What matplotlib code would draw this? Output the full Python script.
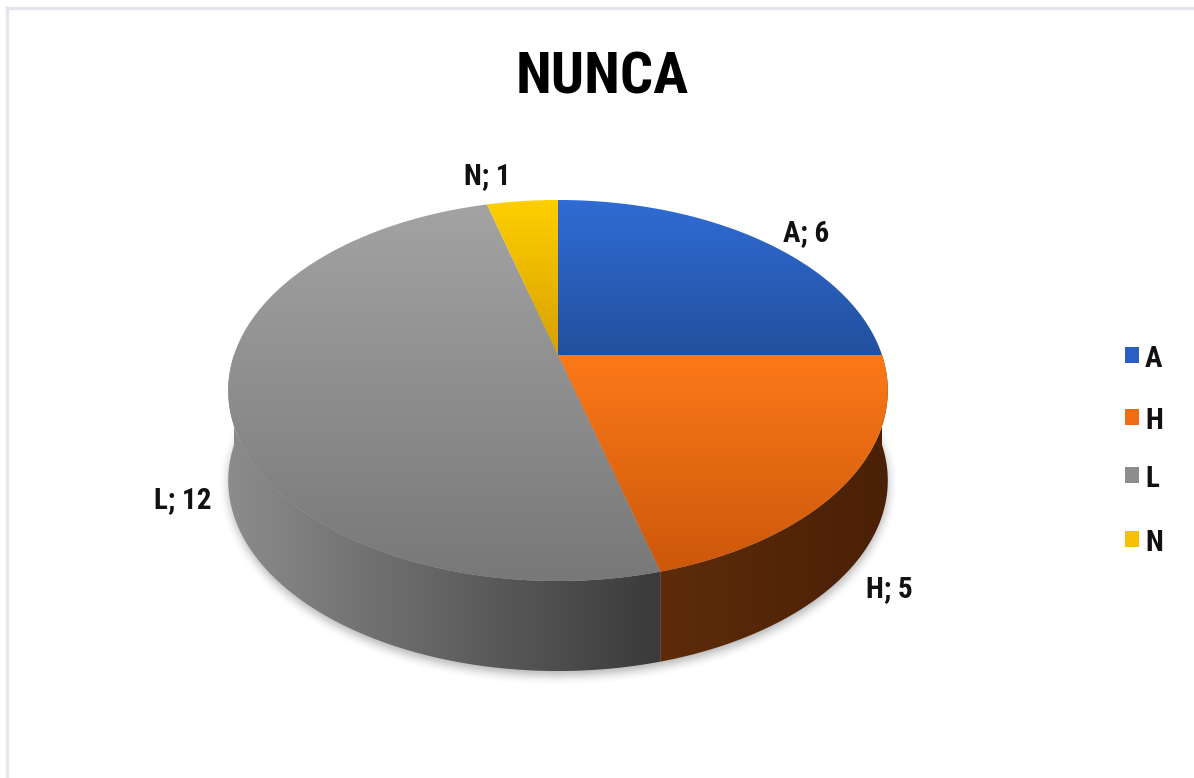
import numpy as np
import matplotlib
matplotlib.use("Agg")
import matplotlib.pyplot as plt
from matplotlib.patches import Polygon, Rectangle
from matplotlib.path import Path
from matplotlib import font_manager
from matplotlib.colors import to_rgb

# ---- data -------------------------------------------------------------
title = "NUNCA"
labels = ["A", "H", "L", "N"]
values = [6, 5, 12, 1]

# face gradients (top -> bottom) and side gradients (start -> end)
top_colors = [("#306cd4", "#22509e"), ("#fc7918", "#cc580b"),
              ("#a3a3a3", "#787878"), ("#ffcf00", "#d9a000")]
side_colors = [("#1c3f80", "#163263"), ("#5e2c0a", "#4a2006"),
               ("#8c8c8c", "#3a3a3a"), ("#b08500", "#8a6600")]
legend_colors = ["#2b5ec3", "#f06c12", "#8d8d8d", "#f5c100"]

# ---- font -------------------------------------------------------------
available = {f.name for f in font_manager.fontManager.ttflist}
font = next((f for f in ["Liberation Sans Narrow", "Arial Narrow",
                         "Roboto Condensed", "Liberation Sans"]
             if f in available), "DejaVu Sans")
plt.rcParams["font.family"] = [font, "DejaVu Sans"]

# ---- canvas -----------------------------------------------------------
W, H = 1194, 778
fig = plt.figure(figsize=(W / 100, H / 100), dpi=100)
ax = fig.add_axes([0, 0, 1, 1])
ax.set_xlim(0, W)
ax.set_ylim(H, 0)
ax.axis("off")

# chart frame (top and left edges)
ax.plot([5, W], [7.5, 7.5], color="#e3e6ec", lw=2.3, solid_capstyle="butt", zorder=0)
ax.plot([6.5, 6.5], [6, H], color="#e3e6ec", lw=2.3, solid_capstyle="butt", zorder=0)

# ---- perspective pie geometry -----------------------------------------
cx, cy = 558, 355        # centre of the top face
B, A, k = 324, 183.9, 0.1864
D = 90                   # thickness of the disc


def proj(theta_deg, depth=0.0):
    t = np.radians(theta_deg)
    v = -np.sin(t)
    s = 1 - k * v
    return np.column_stack([cx + B * np.cos(t) / s, cy + A * v / s + depth])


def grad_fill(xy, c0, c1, direction="v", zorder=2):
    patch = Polygon(xy, closed=True, facecolor="none", edgecolor="none")
    ax.add_patch(patch)
    x0, x1 = xy[:, 0].min(), xy[:, 0].max()
    y0, y1 = xy[:, 1].min(), xy[:, 1].max()
    g = np.linspace(0, 1, 256)
    a, b = np.array(to_rgb(c0)), np.array(to_rgb(c1))
    ramp = a[None, :] * (1 - g[:, None]) + b[None, :] * g[:, None]
    img = ramp[:, None, :] if direction == "v" else ramp[None, :, :]
    im = ax.imshow(img, extent=(x0, x1, y1, y0), aspect="auto",
                   interpolation="bilinear", zorder=zorder)
    im.set_clip_path(patch)
    ax.set_xlim(0, W)
    ax.set_ylim(H, 0)


total = sum(values)
spans = []
start = 90.0
for v in values:
    sweep = 360.0 * v / total
    spans.append((start, start - sweep))   # clockwise
    start -= sweep

# soft shadow under the disc
gx, gy = np.meshgrid(np.arange(150, 980), np.arange(150, 760))
base = proj(np.linspace(0, 360, 361), D + 4)
mask = Path(base).contains_points(np.column_stack([gx.ravel(), gy.ravel()])).reshape(gx.shape).astype(float)


def box_blur(a, r):
    kern = np.ones(2 * r + 1) / (2 * r + 1)
    a = np.apply_along_axis(lambda m: np.convolve(m, kern, mode="same"), 0, a)
    return np.apply_along_axis(lambda m: np.convolve(m, kern, mode="same"), 1, a)


sh = box_blur(box_blur(mask, 5), 5)
rgba = np.zeros(mask.shape + (4,))
rgba[..., :3] = 0.35
rgba[..., 3] = sh * 0.45
ax.imshow(rgba, extent=(150, 980, 760, 150), aspect="auto", zorder=1)
ax.set_xlim(0, W)
ax.set_ylim(H, 0)

# visible outer sides (front half of the disc)
for (a0, a1), (c0, c1) in zip(spans, side_colors):
    lo, hi = max(a1, -180.0), min(a0, 0.0)
    if hi <= lo:
        continue
    th = np.linspace(hi, lo, 120)
    top = proj(th)
    bot = proj(th[::-1], D)
    poly = np.vstack([top, bot])
    grad_fill(poly, c0, c1, direction="h", zorder=2)

# top faces
for (a0, a1), (c0, c1) in zip(spans, top_colors):
    th = np.linspace(a0, a1, 200)
    poly = np.vstack([[cx, cy], proj(th)])
    grad_fill(poly, c0, c1, direction="v", zorder=3)

# ---- data labels ------------------------------------------------------
label_pos = {"A": (806, 241), "H": (889, 597), "L": (183, 508), "N": (487, 184)}
for lab, val in zip(labels, values):
    x, y = label_pos[lab]
    ax.text(x, y, f"{lab}; {val}", fontsize=21, fontweight="bold",
            ha="center", va="baseline", color="#111111", zorder=5)

# ---- title ------------------------------------------------------------
ax.text(602, 93, title, fontsize=42, fontweight="bold", ha="center",
        va="baseline", color="#000000", zorder=5)

# ---- legend -----------------------------------------------------------
leg_base = [367, 429, 487, 551]
for lab, col, yb in zip(labels, legend_colors, leg_base):
    ax.add_patch(Rectangle((1125, yb - 20), 14, 16, facecolor=col,
                           edgecolor="none", zorder=5))
    ax.text(1145, yb, lab, fontsize=21, fontweight="bold", ha="left",
            va="baseline", color="#111111", zorder=5)

fig.savefig("out.png", dpi=100)
